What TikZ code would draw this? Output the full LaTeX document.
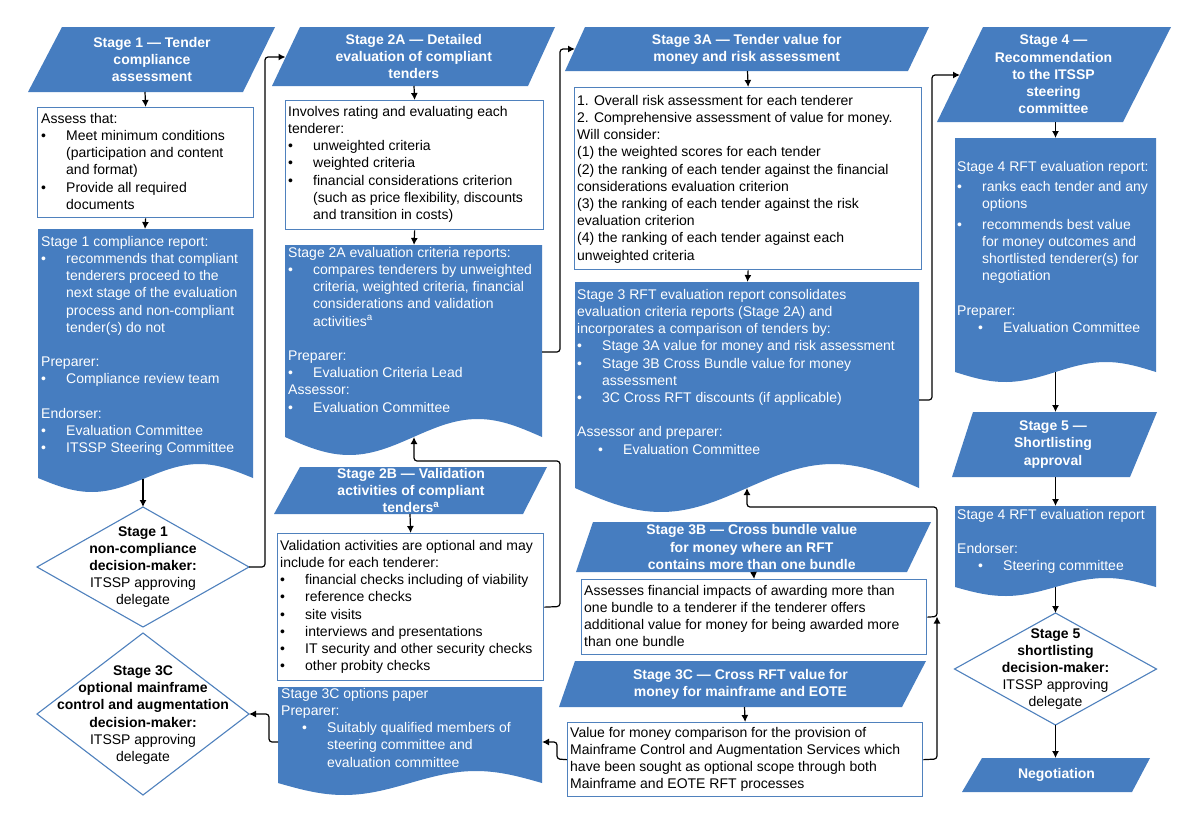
\documentclass[tikz,border=0pt]{standalone}
\usepackage{fontspec}
\setmainfont{Liberation Sans}
\usetikzlibrary{arrows.meta,calc}
\definecolor{bfill}{RGB}{70,125,192}
\definecolor{bline}{RGB}{79,129,189}
\newcommand\bl[1]{\makebox[25pt][l]{•}#1}
\newcommand\cl{\hspace*{25pt}}
\newcommand\blb[1]{\hspace*{21pt}\makebox[25pt][l]{•}#1}
\newcommand\cll{\hspace*{46pt}}
\newcommand\hdr[8]{%
  \fill[bfill] (#2,#6) -- (#3,#6) -- (#5,#7) -- (#4,#7) -- cycle;
  \node[hdrtext] (#1) at ({(#2+#3+#4+#5)/4},{(#6+#7)/2}) {#8};
}
\newcommand\docshape[5]{%
  \fill[bfill] (#1,#3) -- (#2,#3) -- (#2,#4) -- plot[domain=1:0,samples=60] ({#1+\x*(#2-#1)},{#4+#5*sin(360*\x)}) -- cycle;
}
\newcommand\dia[4]{%
  \draw[dline] ({#1},{#2-#4}) -- ({#1+#3},{#2}) -- ({#1},{#2+#4}) -- ({#1-#3},{#2}) -- cycle;
}
\tikzset{
  hdrtext/.style={text=white, font=\bfseries\fontsize{14}{17.2}\selectfont, align=center, inner sep=0pt},
  wbox/.style={draw=bline, line width=1.3pt, fill=white, anchor=north west, inner sep=0pt},
  dline/.style={draw=bline, line width=1.1pt, fill=white},
  txt/.style={inner sep=0pt, align=left, anchor=north west, font=\fontsize{14}{17.2}\selectfont},
  wtxt/.style={txt, text=white},
  dtxt/.style={inner sep=0pt, align=center, font=\fontsize{14}{17.2}\selectfont},
  conn/.style={draw=black, line width=1.2pt, -{Latex[length=7pt,width=7pt]}, rounded corners=3pt},
}
\begin{document}
\begin{tikzpicture}[x=1pt,y=-1pt]
\fill[white] (0,0) rectangle (1200,825);
\useasboundingbox (0,0) rectangle (1200,825);

% ---------- column 1 ----------
\hdr{h1}{62}{275}{28}{243}{27}{92}{Stage 1 — Tender\\compliance\\assessment}
\node[wbox, minimum width=216pt, minimum height=110pt] (a1) at (37,107) {};
\node[txt] (a1t) at (41,113) {Assess that:\\
\bl{Meet minimum conditions}\\
\cl(participation and content\\
\cl and format)\\
\bl{Provide all required}\\
\cl documents};
\docshape{38}{253}{229}{478}{14}
\node[wtxt] (r1t) at (41,236) {Stage 1 compliance report:\\
\bl{recommends that compliant}\\
\cl tenderers proceed to the\\
\cl next stage of the evaluation\\
\cl process and non-compliant\\
\cl tender(s) do not\\[17.2pt]
Preparer:\\
\bl{Compliance review team}\\[17.2pt]
Endorser:\\
\bl{Evaluation Committee}\\
\bl{ITSSP Steering Committee}};
\dia{143}{567}{106}{60}
\node[dtxt] (d1) at (143,567) {\textbf{Stage 1}\\\textbf{non-compliance}\\\textbf{decision-maker:}\\ITSSP approving\\delegate};
\dia{143}{714}{106}{81}
\node[dtxt] (d3c) at (143,715) {\textbf{Stage 3C}\\\textbf{optional mainframe}\\\textbf{control and augmentation}\\\textbf{decision-maker:}\\ITSSP approving\\delegate};

% ---------- column 2 ----------
\hdr{h2a}{300}{555}{272}{528}{27}{86}{Stage 2A — Detailed\\evaluation of compliant\\tenders}
\node[wbox, minimum width=258pt, minimum height=129pt] (b2a) at (285,100) {};
\node[txt] (b2at) at (288,106) {Involves rating and evaluating each\\
tenderer:\\
\bl{unweighted criteria}\\
\bl{weighted criteria}\\
\bl{financial considerations criterion}\\
\cl(such as price flexibility, discounts\\
\cl and transition in costs)};
\docshape{285}{542}{245}{437}{18}
\node[wtxt] (r2at) at (288,247) {Stage 2A evaluation criteria reports:\\
\bl{compares tenderers by unweighted}\\
\cl criteria, weighted criteria, financial\\
\cl considerations and validation\\
\cl activities\textsuperscript{a}\\[17.2pt]
Preparer:\\
\bl{Evaluation Criteria Lead}\\
Assessor:\\
\bl{Evaluation Committee}};
\hdr{h2b}{300}{547}{274}{523}{467}{514}{Stage 2B — Validation\\activities of compliant\\tenders\textsuperscript{a}}
\node[wbox, minimum width=266pt, minimum height=147pt] (b2b) at (277,533) {};
\node[txt] (b2bt) at (280,540) {Validation activities are optional and may\\
include for each tenderer:\\
\bl{financial checks including of viability}\\
\bl{reference checks}\\
\bl{site visits}\\
\bl{interviews and presentations}\\
\bl{IT security and other security checks}\\
\bl{other probity checks}};
\docshape{278}{542}{687}{783}{12}
\node[wtxt] (r3ct) at (281,688) {Stage 3C options paper\\
Preparer:\\
\blb{Suitably qualified members of}\\
\cll steering committee and\\
\cll evaluation committee};

% ---------- column 3 ----------
\hdr{h3a}{585}{929}{565}{908}{27}{71}{Stage 3A — Tender value for\\money and risk assessment}
\node[wbox, minimum width=347pt, minimum height=182pt] (b3a) at (574,87) {};
\node[txt] (b3at) at (577,95) {1. Overall risk assessment for each tenderer\\
2. Comprehensive assessment of value for money.\\
Will consider:\\
(1) the weighted scores for each tender\\
(2) the ranking of each tender against the financial\\
considerations evaluation criterion\\
(3) the ranking of each tender against the risk\\
evaluation criterion\\
(4) the ranking of each tender against each\\
unweighted criteria};
\docshape{575}{919}{282}{488}{24}
\node[wtxt] (r3t) at (577,289) {Stage 3 RFT evaluation report consolidates\\
evaluation criteria reports (Stage 2A) and\\
incorporates a comparison of tenders by:\\
\bl{Stage 3A value for money and risk assessment}\\
\bl{Stage 3B Cross Bundle value for money}\\
\cl assessment\\
\bl{3C Cross RFT discounts (if applicable)}\\[17.2pt]
Assessor and preparer:\\
\blb{Evaluation Committee}};
\hdr{h3b}{593}{931}{576}{907}{522}{572}{Stage 3B — Cross bundle value\\for money where an RFT\\contains more than one bundle}
\node[wbox, minimum width=345pt, minimum height=75pt] (b3b) at (581,579) {};
\node[txt] (b3bt) at (584,585) {Assesses financial impacts of awarding more than\\
one bundle to a tenderer if the tenderer offers\\
additional value for money for being awarded more\\
than one bundle};
\hdr{h3c}{575}{926}{559}{902}{661}{707}{Stage 3C — Cross RFT value for\\money for mainframe and EOTE}
\node[wbox, minimum width=355pt, minimum height=74pt] (b3c) at (567,722) {};
\node[txt] (b3ct) at (570,727) {Value for money comparison for the provision of\\
Mainframe Control and Augmentation Services which\\
have been sought as optional scope through both\\
Mainframe and EOTE RFT processes};

% ---------- column 4 ----------
\hdr{h4}{983}{1171}{937}{1123}{27}{122}{Stage 4 —\\Recommendation\\to the ITSSP\\steering\\committee}
\docshape{955}{1156}{138}{372}{10}
\node[wtxt] (r4t) at (957,161) {Stage 4 RFT evaluation report:\\[2.8pt]
\bl{ranks each tender and any}\\
\cl options\\[3.6pt]
\bl{recommends best value}\\
\cl for money outcomes and\\
\cl shortlisted tenderer(s) for\\
\cl negotiation\\[17.2pt]
Preparer:\\
\blb{Evaluation Committee}};
\hdr{h5}{973}{1157}{952}{1130}{412}{477}{Stage 5 —\\Shortlisting\\approval}
\docshape{955}{1156}{506}{587}{9}
\node[wtxt] (r4bt) at (957,509) {Stage 4 RFT evaluation report\\[17.2pt]
Endorser:\\
\blb{Steering committee}};
\dia{1055.5}{669}{101}{56}
\node[dtxt] (d5) at (1055.5,669) {\textbf{Stage 5}\\\textbf{shortlisting}\\\textbf{decision-maker:}\\ITSSP approving\\delegate};
\hdr{neg}{982}{1150}{962}{1132}{758}{792}{Negotiation}

% ---------- connector points ----------
\coordinate (h1-b) at (145,92);
\coordinate (r1-n) at (145,229);
\coordinate (r1-s) at (143,479);
\coordinate (d1-n) at (143,507);
\coordinate (d1-e) at (249,567);
\coordinate (h2a-w) at (285.5,57);
\coordinate (h2a-b) at (414,86);
\coordinate (r2a-n) at (414,245);
\coordinate (r2a-e) at (542,352);
\coordinate (r2a-s) at (414,437);
\coordinate (h3a-w) at (575,49);
\coordinate (h3a-b) at (747.5,71);
\coordinate (r3-n) at (747.5,282);
\coordinate (r3-e) at (919,400);
\coordinate (r3-s) at (747,488);
\coordinate (h4-w) at (960,75);
\coordinate (h4-b) at (1055.5,122);
\coordinate (r4-n) at (1055.5,138);
\coordinate (r4-s) at (1055.5,372);
\coordinate (h5-t) at (1055.5,412);
\coordinate (h5-b) at (1055.5,477);
\coordinate (r4b-n) at (1055.5,506);
\coordinate (r4b-s) at (1055.5,587);
\coordinate (d5-n) at (1055.5,613);
\coordinate (d5-s) at (1055.5,725);
\coordinate (neg-t) at (1055.5,758);
\coordinate (h2b-b) at (410,514);
\coordinate (h3b-b) at (753.5,572);
\coordinate (h3c-b) at (744.5,707);
\coordinate (r3c-e) at (542,742);
\coordinate (r3c-w) at (278,742);
\coordinate (d3c-e) at (249,714);
\coordinate (j1) at (937,616.5);

% ---------- connectors ----------
\path[conn] (h1-b) -- (a1.north);
\path[conn] (a1.south) -- (r1-n);
\path[conn] (r1-s) -- (d1-n);
\path[conn] (d1-e) -- (265,567) -- (265,57) -- (h2a-w);
\path[conn] (h2a-b) -- (b2a.north);
\path[conn] (b2a.south) -- (r2a-n);
\path[conn] (r2a-e) -- (560,352) -- (560,49) -- (h3a-w);
\path[conn] (h3a-b) -- (b3a.north);
\path[conn] (b3a.south) -- (r3-n);
\path[conn] (r3-e) -- (932,400) -- (932,75) -- (h4-w);
\path[conn] (h4-b) -- (r4-n);
\path[conn] (r4-s) -- (h5-t);
\path[conn] (h5-b) -- (r4b-n);
\path[conn] (r4b-s) -- (d5-n);
\path[conn] (d5-s) -- (neg-t);
\path[conn] (h2b-b) -- (b2b.north);
\path[conn] (b2b.east) -- (560,606.5) -- (560,461) -- (414,461) -- (r2a-s);
\path[conn] (h3b-b) -- (b3b.north);
\path[conn] (h3c-b) -- (b3c.north);
\path[conn] (b3c.west) -- (557,759) -- (557,742) -- (r3c-e);
\path[conn] (r3c-w) -- (269,742) -- (269,714) -- (d3c-e);
\path[conn] (b3c.east) -- (937,759) -- (j1);
\path[conn] (b3b.east) -- (j1) -- (937,507) -- (747,507) -- (r3-s);
\end{tikzpicture}
\end{document}
